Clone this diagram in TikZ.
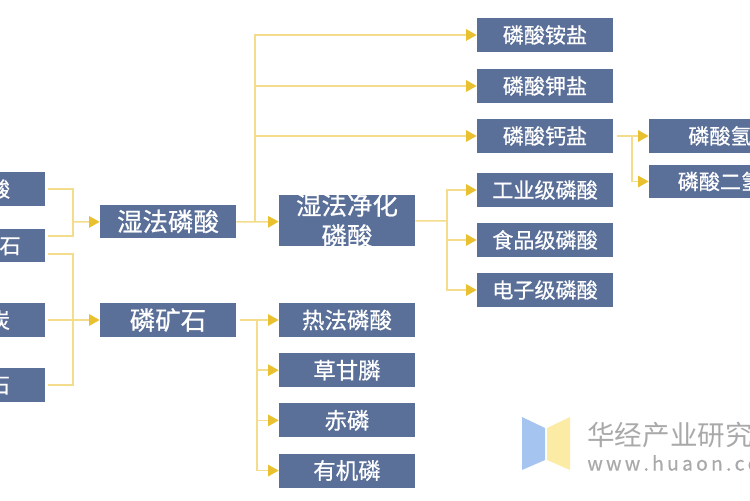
\documentclass[tikz,border=0pt]{standalone}
\usepackage{fontspec}
\setmainfont{Noto Sans CJK SC}
\newfontfamily\boxfont[FakeBold=0.6]{Noto Sans CJK SC}
\usetikzlibrary{positioning}
\usetikzlibrary{arrows.meta}
\definecolor{boxblue}{HTML}{5B7099}
\definecolor{linegold}{HTML}{F3DC8C}
\definecolor{tipgold}{HTML}{E9C02F}
\definecolor{markgray}{HTML}{A9A9A9}
\definecolor{logoblue}{HTML}{A6C4F0}
\definecolor{logoyellow}{HTML}{FBEBA5}
\tikzset{box/.style={fill=boxblue,text=white,minimum width=2.72cm,minimum height=0.68cm,inner sep=0pt,font=\boxfont\fontsize{12}{17.6}\selectfont},
	midbox/.style={box,font=\boxfont\fontsize{14.5}{17.6}\selectfont},
	lowbox/.style={box,font=\boxfont\fontsize{12.8}{17.6}\selectfont},
	wire/.style={draw=linegold,line width=0.85pt},
	arrowwire/.style={wire,-{Triangle[length=6pt,width=6.5pt,color=tipgold]}}}

\begin{document}
\begin{tikzpicture}[x=0.02cm,y=-0.02cm]
	\path[use as bounding box,clip] (0,0) rectangle (750,500);
	% left column, cut off by the page edge
	\node[box,minimum width=2.24cm] (liusuan) at (-11,189) {硫酸}; \node[box,minimum width=2.24cm] (kuangL) at (-11,245.5) {磷矿石};
	\node[box,minimum width=2.24cm] (jiaotan) at (-11,320) {焦炭}; \node[box,minimum width=2.24cm] (guishi) at (-11,385) {硅石};
	% middle columns
	\node[midbox] (shifa) at (168,221.5) {湿法磷酸}; \node[midbox] (kuang) at (168,320) {磷矿石};
	\node[midbox,minimum height=1.02cm,inner ysep=-3pt,text width=2.72cm,align=center] (jinghua) at (347,220.5) {湿法净化\\磷酸};
	\node[lowbox] (refa) at (347,320) {热法磷酸}; \node[lowbox,below=0.31cm of refa] (caogan) {草甘膦};
	\node[lowbox,below=0.31cm of caogan] (chilin) {赤磷}; \node[lowbox,below=0.31cm of chilin] (youji) {有机磷};
	% right columns
	\node[box] (an) at (545,35) {磷酸铵盐}; \node[box] (jia) at (545,86) {磷酸钾盐}; \node[box] (gai) at (545,136) {磷酸钙盐};
	\node[box] (gongye) at (545,190) {工业级磷酸}; \node[box] (shipin) at (545,240) {食品级磷酸}; \node[box] (dianzi) at (545,290) {电子级磷酸};
	\node[box,minimum width=3.26cm] (qing) at (730.5,136) {磷酸氢钙}; \node[box,minimum width=3.26cm] (erqing) at (730.5,181.5) {磷酸二氢钙};
	% junctions
	\coordinate (j1) at (73,222); \coordinate (j2) at (73,320); \coordinate (j3) at (255,222);
	\coordinate (j4) at (447,221); \coordinate (j5) at (257,320); \coordinate (j6) at (632,136);
	% connectors
	\draw[wire] ([xshift=1.7pt]liusuan.east) -| (j1); \draw[wire] ([xshift=1.7pt,yshift=0.19cm]kuangL.east) -| (j1);
	\draw[arrowwire] (j1) -- (shifa);
	\draw[wire] ([xshift=1.7pt,yshift=-0.17cm]kuangL.east) -| (j2); \draw[wire] ([xshift=1.7pt]guishi.east) -| (j2);
	\draw[wire] ([xshift=1.7pt]jiaotan.east) -- (j2); \draw[arrowwire] (j2) -- (kuang);
	\draw[wire] (shifa) -- (j3); \draw[arrowwire] (j3) -- (jinghua);
	\draw[arrowwire] (j3) |- (an); \draw[arrowwire] (j3) |- (jia); \draw[arrowwire] (j3) |- (gai);
	\draw[wire] (jinghua) -- (j4); \draw[arrowwire] (j4) |- (gongye); \draw[arrowwire] (j4) |- (shipin); \draw[arrowwire] (j4) |- (dianzi);
	\draw[wire] ([xshift=2pt]kuang.east) -- (j5); \draw[arrowwire] (j5) -- (refa); \draw[arrowwire] (j5) |- (caogan); \draw[arrowwire] (j5) |- (chilin); \draw[arrowwire] (j5) |- (youji);
	\draw[wire] ([xshift=2pt]gai.east) -- (j6); \draw[arrowwire] (j6) -- (qing); \draw[arrowwire] (j6) |- (erqing);
	% watermark
	\fill[fill=logoblue] (522,417) -- (545,428) -- (545,460) -- (522,470) -- cycle;
	\fill[fill=logoyellow] (547,428) -- (570,417) -- (570,470) -- (547,460) -- cycle;
	\node[anchor=west,inner sep=0pt,text=markgray,font=\fontsize{15.7}{17}\selectfont] (markcn) at (587,435) {华经产业研究院};
	\node[anchor=west,inner sep=0pt,text=markgray,font=\boxfont\fontsize{11}{11}\selectfont] (markurl) at (587,463) {w\,w\,w\,.\,h\,u\,a\,o\,n\,.\,c\,o\,m};
\end{tikzpicture}
\end{document}
